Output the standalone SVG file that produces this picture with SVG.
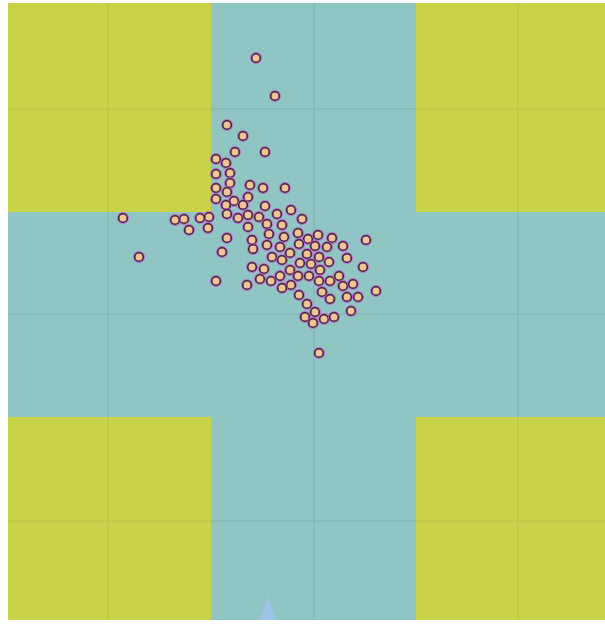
<svg xmlns="http://www.w3.org/2000/svg" xmlns:xlink="http://www.w3.org/1999/xlink" width="605" height="624" viewBox="0 0 605 624">
<style>
.y{fill:#c9d34a}
.t{fill:#8fc5c3}
.gy{stroke:#bec849;stroke-width:1.5;fill:none}
.gt{stroke:#84bbb9;stroke-width:1.5;fill:none}
</style>
<defs>
<g id="dot">
<circle r="5.4" fill="none" stroke="#d050d0" stroke-width="1.2" opacity="0.8"/>
<circle r="4.3" fill="#f2c495" stroke="#3e2640" stroke-width="1.6"/>
</g>
</defs>
<rect width="605" height="624" fill="#ffffff"/>
<g id="map">
<rect x="8" y="3" width="597" height="617" class="t"/>
<rect x="8" y="3" width="203" height="209" class="y"/>
<rect x="416" y="3" width="189" height="209" class="y"/>
<rect x="8" y="417" width="203" height="203" class="y"/>
<rect x="416" y="417" width="189" height="203" class="y"/>
<path class="gy" d="M108,3V212M518,3V212M108,417V620M518,417V620M8,109H211M416,109H605M8,521H211M416,521H605"/>
<path class="gt" d="M314,3V620M108,212V417M518,212V417M211,314H416M8,314H211M416,314H605M211,109H416M211,521H416"/>
<path d="M268,596 Q263,610 260,620 L276,620 Q273,610 268,596Z" fill="#9fc3e6"/>
</g>
<g id="dots">
<use xlink:href="#dot" x="256" y="58"/>
<use xlink:href="#dot" x="275" y="96"/>
<use xlink:href="#dot" x="227" y="125"/>
<use xlink:href="#dot" x="243" y="136"/>
<use xlink:href="#dot" x="235" y="152"/>
<use xlink:href="#dot" x="265" y="152"/>
<use xlink:href="#dot" x="216" y="159"/>
<use xlink:href="#dot" x="226" y="163"/>
<use xlink:href="#dot" x="230" y="173"/>
<use xlink:href="#dot" x="216" y="174"/>
<use xlink:href="#dot" x="230" y="183"/>
<use xlink:href="#dot" x="250" y="185"/>
<use xlink:href="#dot" x="263" y="188"/>
<use xlink:href="#dot" x="285" y="188"/>
<use xlink:href="#dot" x="216" y="188"/>
<use xlink:href="#dot" x="227" y="192"/>
<use xlink:href="#dot" x="248" y="197"/>
<use xlink:href="#dot" x="216" y="199"/>
<use xlink:href="#dot" x="234" y="201"/>
<use xlink:href="#dot" x="226" y="205"/>
<use xlink:href="#dot" x="243" y="205"/>
<use xlink:href="#dot" x="265" y="206"/>
<use xlink:href="#dot" x="291" y="210"/>
<use xlink:href="#dot" x="277" y="214"/>
<use xlink:href="#dot" x="227" y="214"/>
<use xlink:href="#dot" x="238" y="218"/>
<use xlink:href="#dot" x="248" y="215"/>
<use xlink:href="#dot" x="259" y="217"/>
<use xlink:href="#dot" x="209" y="217"/>
<use xlink:href="#dot" x="200" y="218"/>
<use xlink:href="#dot" x="184" y="219"/>
<use xlink:href="#dot" x="175" y="220"/>
<use xlink:href="#dot" x="123" y="218"/>
<use xlink:href="#dot" x="189" y="230"/>
<use xlink:href="#dot" x="208" y="228"/>
<use xlink:href="#dot" x="139" y="257"/>
<use xlink:href="#dot" x="222" y="252"/>
<use xlink:href="#dot" x="227" y="238"/>
<use xlink:href="#dot" x="216" y="281"/>
<use xlink:href="#dot" x="247" y="285"/>
<use xlink:href="#dot" x="302" y="219"/>
<use xlink:href="#dot" x="248" y="227"/>
<use xlink:href="#dot" x="267" y="224"/>
<use xlink:href="#dot" x="282" y="225"/>
<use xlink:href="#dot" x="252" y="240"/>
<use xlink:href="#dot" x="269" y="234"/>
<use xlink:href="#dot" x="284" y="237"/>
<use xlink:href="#dot" x="298" y="233"/>
<use xlink:href="#dot" x="308" y="239"/>
<use xlink:href="#dot" x="318" y="235"/>
<use xlink:href="#dot" x="332" y="238"/>
<use xlink:href="#dot" x="366" y="240"/>
<use xlink:href="#dot" x="253" y="249"/>
<use xlink:href="#dot" x="267" y="245"/>
<use xlink:href="#dot" x="280" y="247"/>
<use xlink:href="#dot" x="290" y="253"/>
<use xlink:href="#dot" x="299" y="244"/>
<use xlink:href="#dot" x="315" y="246"/>
<use xlink:href="#dot" x="327" y="247"/>
<use xlink:href="#dot" x="343" y="246"/>
<use xlink:href="#dot" x="272" y="257"/>
<use xlink:href="#dot" x="282" y="260"/>
<use xlink:href="#dot" x="307" y="254"/>
<use xlink:href="#dot" x="319" y="257"/>
<use xlink:href="#dot" x="329" y="262"/>
<use xlink:href="#dot" x="347" y="258"/>
<use xlink:href="#dot" x="252" y="267"/>
<use xlink:href="#dot" x="264" y="269"/>
<use xlink:href="#dot" x="290" y="270"/>
<use xlink:href="#dot" x="300" y="263"/>
<use xlink:href="#dot" x="311" y="264"/>
<use xlink:href="#dot" x="320" y="270"/>
<use xlink:href="#dot" x="363" y="267"/>
<use xlink:href="#dot" x="260" y="279"/>
<use xlink:href="#dot" x="271" y="281"/>
<use xlink:href="#dot" x="280" y="276"/>
<use xlink:href="#dot" x="291" y="285"/>
<use xlink:href="#dot" x="298" y="276"/>
<use xlink:href="#dot" x="309" y="276"/>
<use xlink:href="#dot" x="319" y="281"/>
<use xlink:href="#dot" x="330" y="281"/>
<use xlink:href="#dot" x="339" y="276"/>
<use xlink:href="#dot" x="343" y="286"/>
<use xlink:href="#dot" x="353" y="284"/>
<use xlink:href="#dot" x="376" y="291"/>
<use xlink:href="#dot" x="282" y="288"/>
<use xlink:href="#dot" x="299" y="295"/>
<use xlink:href="#dot" x="322" y="292"/>
<use xlink:href="#dot" x="330" y="299"/>
<use xlink:href="#dot" x="347" y="297"/>
<use xlink:href="#dot" x="358" y="297"/>
<use xlink:href="#dot" x="307" y="304"/>
<use xlink:href="#dot" x="351" y="311"/>
<use xlink:href="#dot" x="315" y="312"/>
<use xlink:href="#dot" x="305" y="317"/>
<use xlink:href="#dot" x="324" y="319"/>
<use xlink:href="#dot" x="334" y="317"/>
<use xlink:href="#dot" x="313" y="323"/>
<use xlink:href="#dot" x="319" y="353"/>
</g>
</svg>
